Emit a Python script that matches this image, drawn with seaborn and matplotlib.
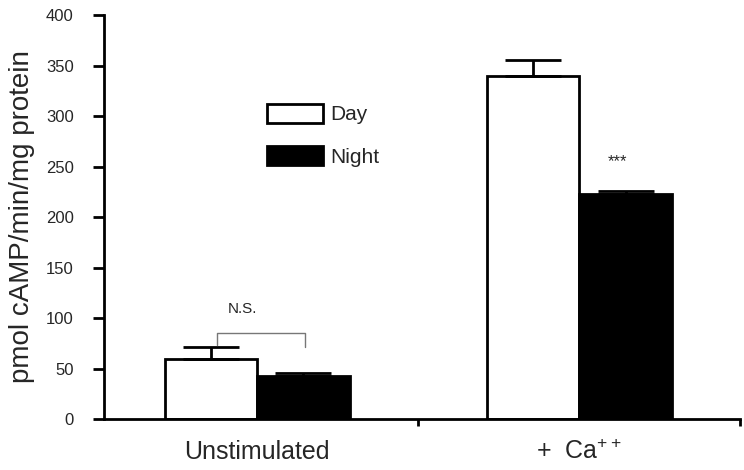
import matplotlib
matplotlib.use("Agg")
import matplotlib.pyplot as plt
import seaborn as sns
import pandas as pd

# data
conditions = ["Unstimulated", "+  Ca$^{++}$"]
phases = ["Day", "Night"]
means = [59, 43, 340, 223]      # Unstim Day, Unstim Night, Ca Day, Ca Night
sems = [12, 3, 15, 3]

df = pd.DataFrame({
    "condition": [conditions[0], conditions[0], conditions[1], conditions[1]],
    "phase": phases * 2,
    "value": means,
})

sns.set_style("ticks")
plt.rcParams["font.family"] = ["Liberation Sans", "DejaVu Sans"]
plt.rcParams["mathtext.default"] = "regular"

fig = plt.figure(figsize=(7.44, 4.70), dpi=100)
ax = fig.add_axes([0.14, 0.1085, 0.855, 0.8595])

sns.barplot(data=df, x="condition", y="value", hue="phase", hue_order=phases,
            palette={"Day": "white", "Night": "black"}, edgecolor="black",
            linewidth=2, width=0.575, gap=0, errorbar=None, ax=ax)

# error bars (upper only) from the drawn bars
bars = sorted(ax.patches[:4], key=lambda p: p.get_x())
xs = [p.get_x() + p.get_width() / 2 for p in bars]
ax.errorbar(xs, means, yerr=[[0] * 4, sems], fmt="none", ecolor="black",
            elinewidth=2, capsize=20, capthick=2, zorder=1)

# significance marks
ax.plot([xs[0] + 0.02, xs[0] + 0.02, xs[1] + 0.005, xs[1] + 0.005], [73, 85, 85, 71],
        color="#777777", lw=1)
ax.text((xs[0] + xs[1]) / 2 - 0.045, 102, "N.S.", ha="center", va="bottom", fontsize=11)
ax.text(xs[3] - 0.025, 247, "***", ha="center", va="bottom", fontsize=12)

ax.set_ylim(0, 400)
ax.set_xlim(-0.475, 1.5)
ax.set_yticks(range(0, 401, 50))
ax.set_xticks([0, 1])
ax.set_xticklabels(conditions, fontsize=18)
ax.set_xticks([0.5, 1.5], minor=True)
ax.tick_params(axis="x", which="major", length=0, pad=15)
ax.tick_params(axis="x", which="minor", length=5, width=2, color="black")
ax.tick_params(axis="y", length=8, width=2, labelsize=12, pad=14, color="black")
ax.set_xlabel("")
ax.set_ylabel("pmol cAMP/min/mg protein", fontsize=20, labelpad=8)
for s in ["left", "bottom"]:
    ax.spines[s].set_linewidth(2)
    ax.spines[s].set_color("black")
sns.despine(ax=ax)

ax.legend(loc="upper left", bbox_to_anchor=(0.256, 0.78), frameon=False,
          fontsize=15, handlelength=2.7, handleheight=1.0, handletextpad=0.35,
          labelspacing=1.05, borderpad=0, borderaxespad=0)

fig.savefig("out.png", dpi=100)
